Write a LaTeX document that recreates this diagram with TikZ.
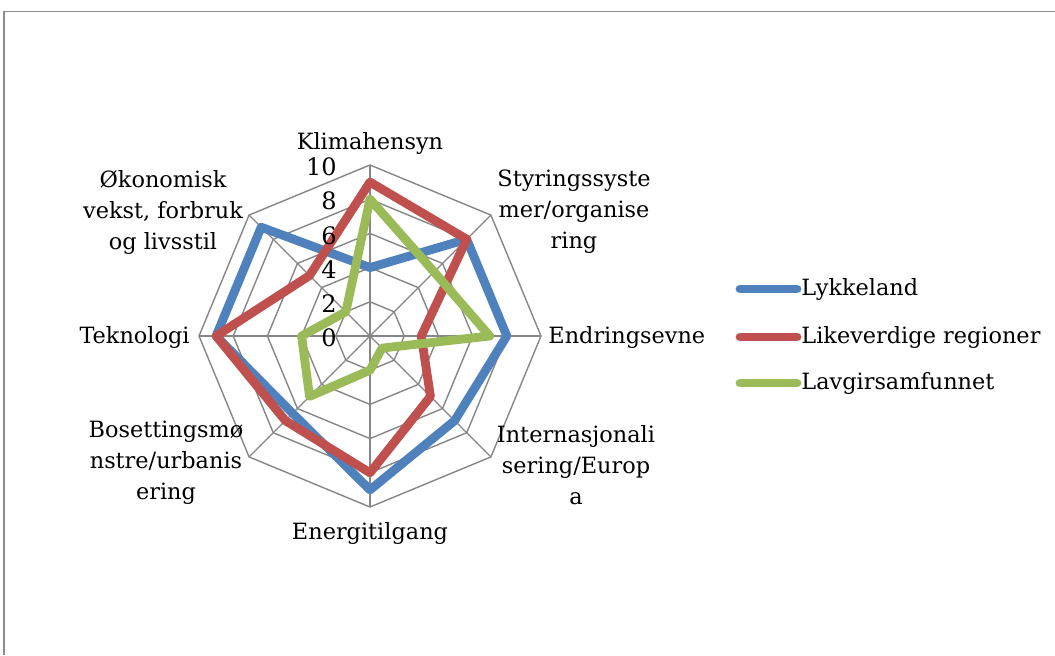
\documentclass[tikz,border=0pt]{standalone}
\usepackage{fontspec}
\setmainfont{DejaVu Serif}
\definecolor{blueS}{HTML}{4F81BD}
\definecolor{redS}{HTML}{C0504D}
\definecolor{greenS}{HTML}{9BBB59}
\definecolor{gridc}{HTML}{868686}
\definecolor{framec}{HTML}{8C8C8C}
\begin{document}
\begin{tikzpicture}[x=0.5pt,y=0.5pt,
  lbl/.style={font=\fontsize{11.2}{15.5}\selectfont, inner sep=0pt, align=center},
  ticklbl/.style={font=\fontsize{12}{13}\selectfont, inner sep=0pt, anchor=east},
  gridline/.style={draw=gridc, line width=0.7pt},
  series/.style={line width=4.4pt, line join=round},
  legline/.style={line width=4.4pt, line cap=round},
  frameline/.style={draw=framec, line width=0.8pt}]
\useasboundingbox (0,0) rectangle (1055,655);
\draw[frameline] (4,0) -- (4,643.5) -- (1055,643.5);
\begin{scope}[shift={(370,319)}, x=8.55pt, y=8.55pt]
  \foreach \r in {2,4,6,8,10}
    \draw[gridline] (90:\r) -- (45:\r) -- (0:\r) -- (-45:\r) -- (-90:\r) -- (-135:\r) -- (180:\r) -- (135:\r) -- cycle;
  \foreach \a in {90,45,...,-225}
    \draw[gridline] (0,0) -- (\a:10);
  \draw[series, blueS] (90:4) -- (45:8) -- (0:8) -- (-45:7) -- (-90:9) -- (-135:6.4) -- (180:9) -- (135:9) -- cycle;
  \draw[series, redS] (90:9) -- (45:8) -- (0:3) -- (-45:5) -- (-90:8) -- (-135:7) -- (180:9) -- (135:5) -- cycle;
  \draw[series, greenS] (90:8) -- (45:5.3) -- (0:7) -- (-45:1) -- (-90:2) -- (-135:5) -- (180:4) -- (135:2) -- cycle;
  \foreach \v in {0,2,4,6,8,10}
    \node[ticklbl] (t\v) at (-1.93, \v-0.12) {\v};
\end{scope}
% axis labels
\node[lbl] (klima) at (370,512) {Klimahensyn};
\node[lbl] (styr) at (574,443) {Styringssyste\\mer/organise\\ring};
\node[lbl, anchor=west] (endr) at (548,318) {Endringsevne};
\node[lbl] (intern) at (576,190) {Internasjonali\\sering/Europ\\a};
\node[lbl] (energi) at (370,122) {Energitilgang};
\node[lbl] (boset) at (166,192) {Bosettingsmø\\nstre/urbanis\\ering};
\node[lbl, anchor=east] (tekno) at (190,318) {Teknologi};
\node[lbl] (okon) at (163,443) {Økonomisk\\vekst, forbruk\\og livsstil};
% legend
\coordinate (la1) at (740,366); \coordinate (lb1) at (797,366);
\coordinate (la2) at (740,318); \coordinate (lb2) at (797,318);
\coordinate (la3) at (740,272); \coordinate (lb3) at (797,272);
\draw[legline, blueS] (la1) -- (lb1);
\draw[legline, redS] (la2) -- (lb2);
\draw[legline, greenS] (la3) -- (lb3);
\node[lbl, anchor=west] (leg1) at (801,366) {Lykkeland};
\node[lbl, anchor=west] (leg2) at (801,318) {Likeverdige regioner};
\node[lbl, anchor=west] (leg3) at (801,272) {Lavgirsamfunnet};
\end{tikzpicture}
\end{document}
